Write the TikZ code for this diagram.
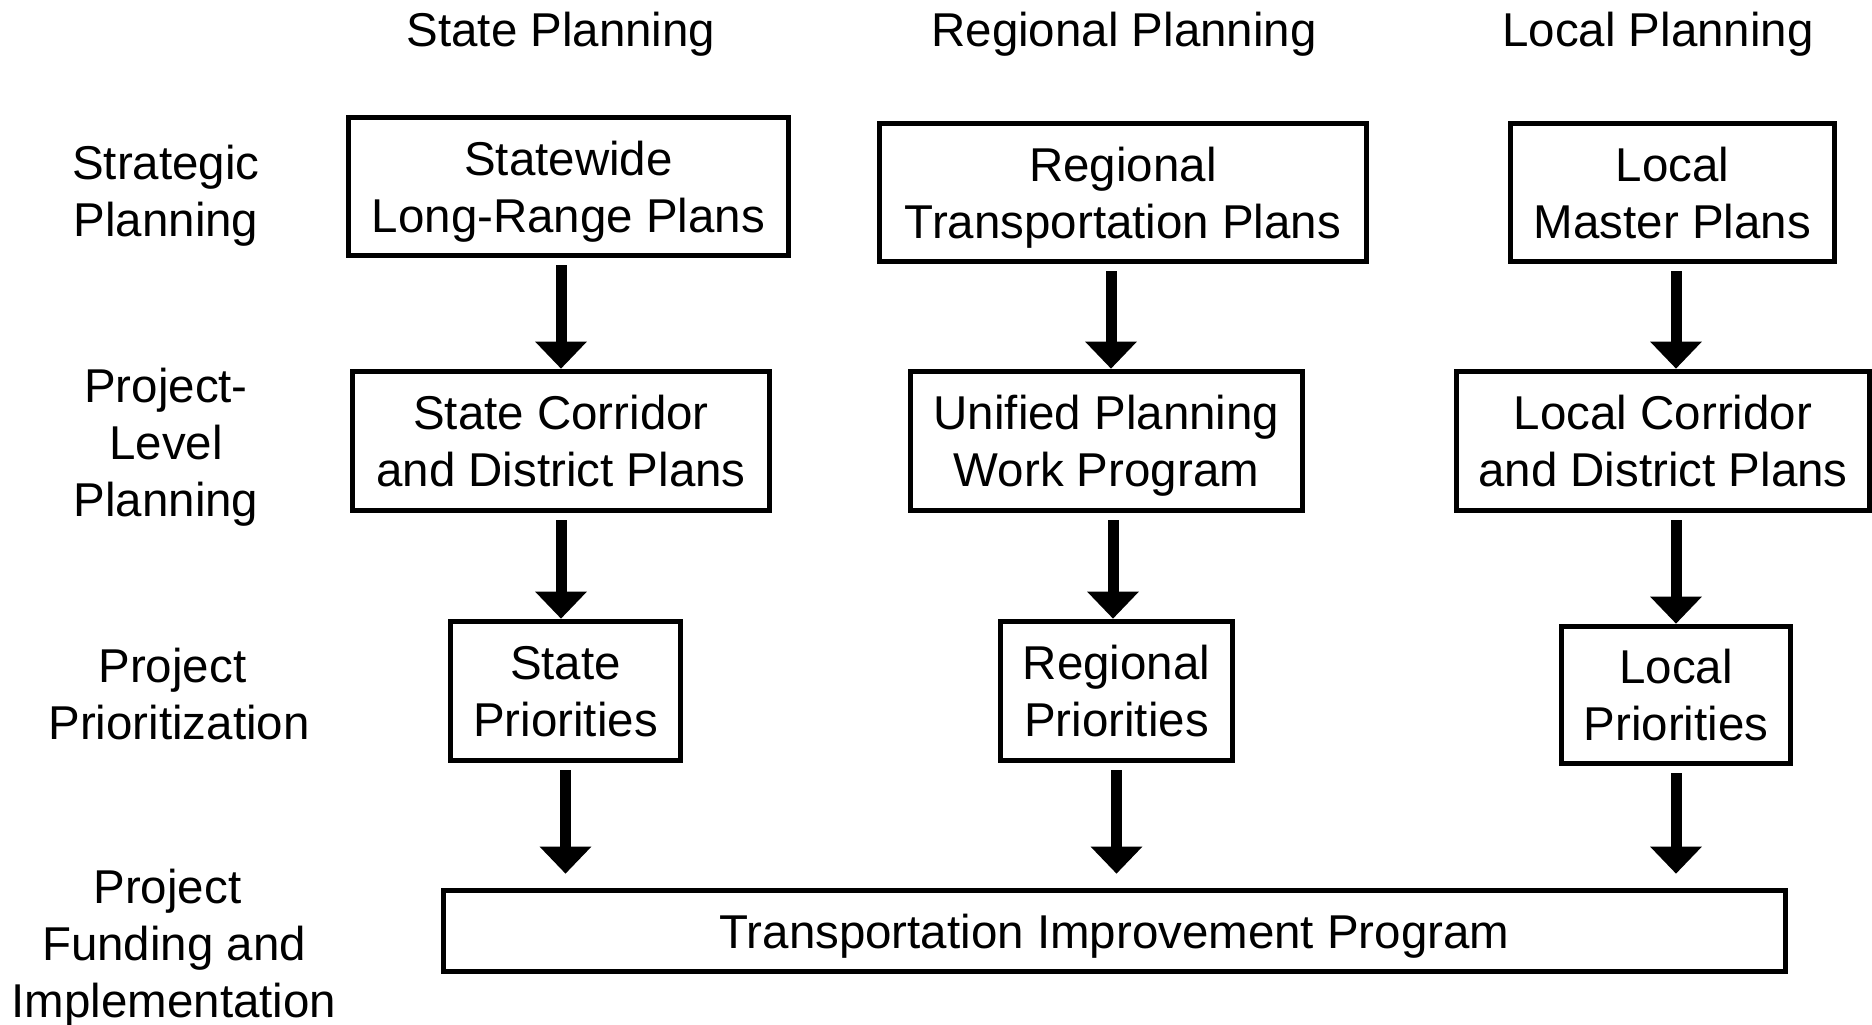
\documentclass[tikz,border=0pt]{standalone}
\usepackage{fontspec}
\setmainfont{Liberation Sans}
\usetikzlibrary{arrows.meta}
\begin{document}
\begin{tikzpicture}[x=0.01cm, y=-0.01cm, font=\fontsize{13.5}{16.2}\selectfont,
  box/.style={draw, line width=0.05cm, align=center, inner sep=0pt, text depth=0pt},
  lbl/.style={align=center, inner sep=0pt},
  arr/.style={line width=0.11cm, -{Triangle[width=0.5cm,length=0.27cm]}, shorten <=0.07cm},
  totip/.style={shorten >=0.14cm}]
\useasboundingbox (0,0) rectangle (1872,1025);

% column headers
\node[lbl, anchor=base] (hs) at (561,47) {State Planning};
\node[lbl, anchor=base] (hr) at (1124,47) {Regional Planning};
\node[lbl, anchor=base] (hl) at (1658,47) {Local Planning};

% row labels
\node[lbl] (l1) at (166,195.5) {Strategic\\Planning};
\node[lbl] (l2) at (166,447) {Project-\\Level\\Planning};
\node[lbl] (l3) at (179,694.5) {Project\kern0.28em\\Prioritization};
\node[lbl] (l4) at (174,948) {Project\kern0.28em\\Funding and\\Implementation};

% row 1
\node[box, minimum width=4.405cm, minimum height=1.385cm] (sw) at (568.5,186.5) {Statewide\\Long-Range Plans};
\node[box, minimum width=4.86cm, minimum height=1.385cm] (rtp) at (1123,192.5) {Regional\\Transportation Plans};
\node[box, minimum width=3.245cm, minimum height=1.385cm] (lmp) at (1672.5,192.5) {Local\\Master Plans};

% row 2
\node[box, minimum width=4.175cm, minimum height=1.395cm] (sc) at (561,441) {State Corridor\\and District Plans};
\node[box, minimum width=3.925cm, minimum height=1.395cm] (upwp) at (1106.5,441) {Unified Planning\\Work Program};
\node[box, minimum width=4.13cm, minimum height=1.395cm] (lc) at (1663,441) {Local Corridor\\and District Plans};

% row 3
\node[box, minimum width=2.305cm, minimum height=1.395cm] (sp) at (565.5,691) {State\\Priorities};
\node[box, minimum width=2.325cm, minimum height=1.395cm] (rp) at (1116.5,691) {Regional\\Priorities};
\node[box, minimum width=2.295cm, minimum height=1.375cm] (lp) at (1676,695) {Local\\Priorities};

% row 4
\node[box, minimum width=13.405cm, minimum height=0.815cm] (tip) at (1114.5,931) {Transportation Improvement Program};

% arrow x positions for the regional column
\coordinate (c2a) at (1111,0);
\coordinate (c2b) at (1113,0);

% state column
\draw[arr] (sw.south -| sc.north) -- (sc.north);
\draw[arr] (sc.south) -- (sp.north -| sc.south);
\draw[arr, totip] (sp.south) -- (tip.north -| sp.south);

% regional column
\draw[arr] (rtp.south -| c2a) -- (upwp.north -| c2a);
\draw[arr] (upwp.south -| c2b) -- (rp.north -| c2b);
\draw[arr, totip] (rp.south) -- (tip.north -| rp.south);

% local column
\draw[arr] (lmp.south -| lp.north) -- (lc.north -| lp.north);
\draw[arr] (lc.south -| lp.north) -- (lp.north);
\draw[arr, totip] (lp.south) -- (tip.north -| lp.south);
\end{tikzpicture}
\end{document}
